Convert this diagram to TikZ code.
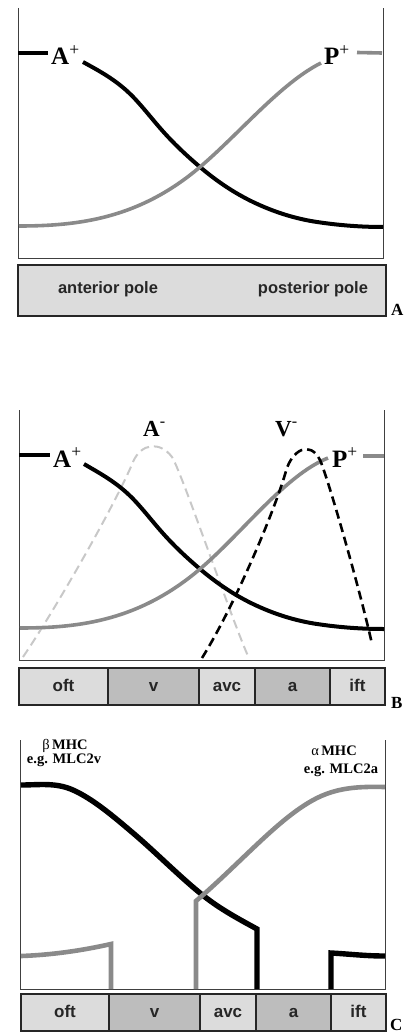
\documentclass[tikz,border=0pt]{standalone}
\usepackage{fontspec}
\setmainfont{Liberation Serif}
\setsansfont{Liberation Sans}
\definecolor{curvegrey}{HTML}{8A8A8A}
\definecolor{lightgrey}{HTML}{C8C8C8}
\definecolor{barlight}{HTML}{DCDCDC}
\definecolor{bardark}{HTML}{BDBDBD}
\definecolor{framegrey}{HTML}{404040}
\begin{document}
\begin{tikzpicture}[x=1pt,y=-1pt,
  frame/.style={draw=framegrey, line width=0.9pt},
  blackcurve/.style={draw=black, line width=4pt},
  greycurve/.style={draw=curvegrey, line width=3.6pt},
  blackthick/.style={draw=black, line width=5.4pt, line join=miter},
  greythick/.style={draw=curvegrey, line width=4.6pt, line join=miter},
  lightdash/.style={draw=lightgrey, line width=2pt, dash pattern=on 9pt off 5pt},
  darkdash/.style={draw=black, line width=2.6pt, dash pattern=on 9pt off 5pt},
  biglabel/.style={font=\fontsize{25}{25}\selectfont\bfseries, inner sep=0pt, anchor=base west},
  midlabel/.style={font=\fontsize{23}{23}\selectfont\bfseries, inner sep=0pt, anchor=base west},
  genelabel/.style={font=\fontsize{14.5}{14.5}\selectfont\bfseries, inner sep=0pt, anchor=base},
  panellabel/.style={font=\fontsize{17}{17}\selectfont\bfseries, inner sep=0pt, anchor=base west},
  barbox/.style={draw=black!85, line width=1.1pt, fill=barlight, minimum width=368pt, minimum height=51pt, inner sep=0pt},
  seglight/.style={draw=black!85, line width=1.1pt, fill=barlight, minimum height=37pt, inner sep=0pt,
     font=\fontsize{17}{17}\selectfont\sffamily\bfseries, text=black!85, text height=9pt, text depth=0pt},
  segdark/.style={seglight, fill=bardark},
  bartext/.style={font=\fontsize{16.5}{16.5}\selectfont\sffamily\bfseries, text=black!85, inner sep=0pt, anchor=base}
]
\useasboundingbox (0,0) rectangle (408,1032);

% ---------------- Panel A ----------------
\draw[frame] (18,8) -- (18,258) -- (383,258) -- (383,8);
\draw[blackcurve] (18,53) -- (48,53);
\draw[blackcurve] (83,62) .. controls (97.67,70.07) and (112.33,77.8) .. (127,91)
  .. controls (138,100.9) and (149,115.35) .. (160,128)
  .. controls (173.33,143.33) and (186.67,155.67) .. (200,167)
  .. controls (217.67,182.02) and (235.33,193.52) .. (253,202)
  .. controls (274.33,212.24) and (295.67,218.8) .. (317,222)
  .. controls (339,225.3) and (361,227) .. (383,227);
\draw[greycurve] (19,226) .. controls (79.33,226) and (139.67,218.3) .. (200,167)
  .. controls (240,133) and (281,83) .. (321,63);
\draw[greycurve] (357,52.5) -- (382,53);
\node[biglabel] (Apa) at (51,65) {A\textsuperscript{\mdseries +}};
\node[biglabel] (Ppa) at (324,65) {P\textsuperscript{\mdseries +}};
\node[barbox] (barA) at (202,290.5) {};
\node[bartext] (ant) at (108,293) {anterior pole};
\node[bartext] (post) at (313,293) {posterior pole};
\node[panellabel] (LA) at (391,315) {A};

% ---------------- Panel B ----------------
\draw[frame] (19,410) -- (19,660) -- (384,660) -- (384,410);
\draw[lightdash] (23,657) .. controls (55,610) and (115,505) .. (133,462)
  .. controls (141,443) and (160,441) .. (172,457)
  .. controls (182,473) and (230,615) .. (248,656);
\draw[blackcurve] (19,455) -- (50,455);
\draw[blackcurve] (84,464) .. controls (97.67,472.07) and (112.33,479.8) .. (127,493)
  .. controls (138,502.9) and (149,517.35) .. (160,530)
  .. controls (173.33,545.33) and (186.67,557.67) .. (200,569)
  .. controls (217.67,584.02) and (235.33,595.52) .. (253,604)
  .. controls (274.33,614.24) and (295.67,620.8) .. (317,624)
  .. controls (339,627.3) and (361,629) .. (384,629);
\draw[greycurve] (20,628) .. controls (80.33,628) and (139.67,620.3) .. (200,569)
  .. controls (242.67,532.7) and (285.33,475) .. (328,458);
\draw[greycurve] (363,456) -- (384,456);
\draw[darkdash] (202,658) .. controls (235,605) and (275,510) .. (286,471)
  .. controls (292,450) and (310,440) .. (320,460)
  .. controls (328,478) and (360,590) .. (372,644);
\node[biglabel] (Apb) at (53,467) {A\textsuperscript{\mdseries +}};
\node[biglabel] (Ppb) at (332,467) {P\textsuperscript{\mdseries +}};
\node[midlabel] (Amb) at (143,436) {A\textsuperscript{\mdseries -}};
\node[midlabel] (Vmb) at (275,436) {V\textsuperscript{\mdseries -}};
\node[seglight, minimum width=89pt] (oftB) at (63.5,686.5) {oft};
\node[segdark, minimum width=91pt] (vB) at (153.5,686.5) {v};
\node[seglight, minimum width=56pt] (avcB) at (227,686.5) {avc};
\node[segdark, minimum width=75pt] (aB) at (292.5,686.5) {a};
\node[seglight, minimum width=55pt] (iftB) at (357.5,686.5) {ift};
\node[panellabel] (LB) at (391,708) {B};

% ---------------- Panel C ----------------
\draw[frame] (20,740) -- (20,989) -- (385,989) -- (385,740);
\draw[blackthick] (21,785) .. controls (38.33,785) and (55.67,782.2) .. (73,790)
  .. controls (93,799) and (113,816) .. (133,833)
  .. controls (155.33,851.98) and (177.67,874.69) .. (200,893)
  .. controls (219,908.58) and (238,918.55) .. (257,929) -- (257,989);
\draw[blackthick] (331,989) -- (331,953) .. controls (350,954) and (365,956) .. (385,956);
\draw[greythick] (111,989) -- (111,944) .. controls (80,951) and (50,955) .. (21,956);
\draw[greythick] (196,989) -- (196,901) .. controls (214,885.7) and (232,868.1) .. (250,851)
  .. controls (272.33,829.8) and (294.67,809.17) .. (317,798)
  .. controls (339.67,786.67) and (362.33,786.55) .. (385,787);
\node[genelabel] (bmhc) at (65,749) {{\mdseries β}\,MHC};
\node[genelabel] (mlcv) at (64,763) {e.g. MLC2v};
\node[genelabel] (amhc) at (334,755) {{\mdseries α}\,MHC};
\node[genelabel] (mlca) at (341,773) {e.g. MLC2a};
\node[seglight, minimum width=88pt] (oftC) at (65,1012.5) {oft};
\node[segdark, minimum width=91pt] (vC) at (154.5,1012.5) {v};
\node[seglight, minimum width=56pt] (avcC) at (228,1012.5) {avc};
\node[segdark, minimum width=75pt] (aC) at (293.5,1012.5) {a};
\node[seglight, minimum width=55pt] (iftC) at (358.5,1012.5) {ift};
\node[panellabel] (LC) at (390,1030) {C};
\end{tikzpicture}
\end{document}
